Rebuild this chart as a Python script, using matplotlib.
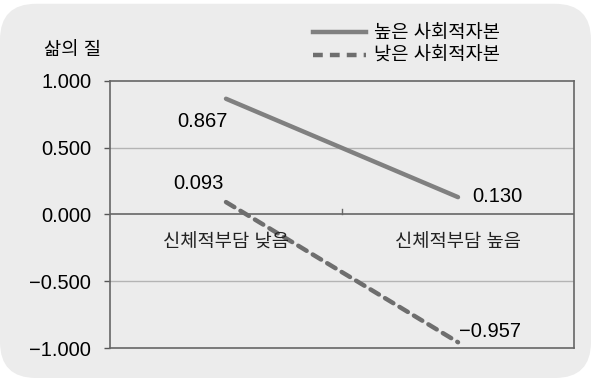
import matplotlib
matplotlib.use("Agg")
import matplotlib.pyplot as plt
from matplotlib.patches import FancyBboxPatch
from matplotlib.lines import Line2D

plt.rcParams['font.family'] = ['Liberation Sans', 'Noto Sans CJK KR', 'DejaVu Sans']

# Data
categories = ["신체적부담 낮음", "신체적부담 높음"]
high_capital = [0.867, 0.130]
low_capital = [0.093, -0.957]
series_names = ["높은 사회적자본", "낮은 사회적자본"]
y_ticks = [-1.0, -0.5, 0.0, 0.5, 1.0]

fig = plt.figure(figsize=(6, 3.78), dpi=100)
fig.patch.set_facecolor("white")

# rounded grey background
bg = FancyBboxPatch((0.0, 0.0), 0.985, 0.99, boxstyle="round,pad=0,rounding_size=0.06",
                    transform=fig.transFigure, facecolor="#ececec", edgecolor="none",
                    mutation_aspect=600 / 378, zorder=-10)
fig.patches.append(bg)

ax = fig.add_axes([110 / 600, 1 - 348 / 378, 464 / 600, 267 / 378])
ax.set_facecolor("#ececec")

x = [0.5, 1.5]
ax.plot(x, high_capital, color="#808080", lw=3.2, solid_capstyle="round", zorder=3)
ax.plot(x, low_capital, color="#6e6e6e", lw=3.2, linestyle=(0, (2.2, 1.6)),
        dash_capstyle="round", zorder=3)

ax.set_xlim(0, 2)
ax.set_ylim(-1.0, 1.0)
ax.set_yticks(y_ticks)
ax.set_yticklabels([f"{v:.3f}".replace("-", "\u2212") for v in y_ticks], fontsize=14.5)
ax.tick_params(axis="y", length=4.5, width=1, color="#555555", pad=9)
ax.set_xticks([])

# grid lines
for v in [0.5, -0.5]:
    ax.axhline(v, color="#b4b4b4", lw=1, zorder=1)
ax.axhline(0, color="#666666", lw=1.2, zorder=2)
ax.plot([1, 1], [0, 0.04], color="#666666", lw=1, zorder=2)

for s in ax.spines.values():
    s.set_color("#666666")
    s.set_linewidth(1.2)

# category labels just below the zero line
for xi, c in zip(x, categories):
    ax.text(xi, -0.21, c, ha="center", va="center", fontsize=13.5, color="#222222")

# value labels
ax.text(0.40, 0.70, f"{high_capital[0]:.3f}", ha="center", va="center", fontsize=14.5)
ax.text(0.38, 0.23, f"{low_capital[0]:.3f}", ha="center", va="center", fontsize=14.5)
ax.text(1.67, 0.135, f"{high_capital[1]:.3f}", ha="center", va="center", fontsize=14.5)
ax.text(1.64, -0.88, f"{low_capital[1]:.3f}".replace("-", "\u2212"), ha="center", va="center",
        fontsize=14.5)

# y label
fig.text(44 / 600, 1 - 50 / 378, "삶의 질", ha="left", va="center", fontsize=13.5)

# legend
handles = [Line2D([], [], color="#808080", lw=3.2),
           Line2D([], [], color="#6e6e6e", lw=3.2, linestyle=(0, (2.2, 1.6)))]
fig.legend(handles, series_names, loc="upper left", bbox_to_anchor=(300 / 600, 1 - 12 / 378),
           frameon=False, fontsize=13.5, handlelength=2.8, handletextpad=0.45,
           labelspacing=0.3, borderpad=0.2)

fig.savefig("out.png", dpi=100)
